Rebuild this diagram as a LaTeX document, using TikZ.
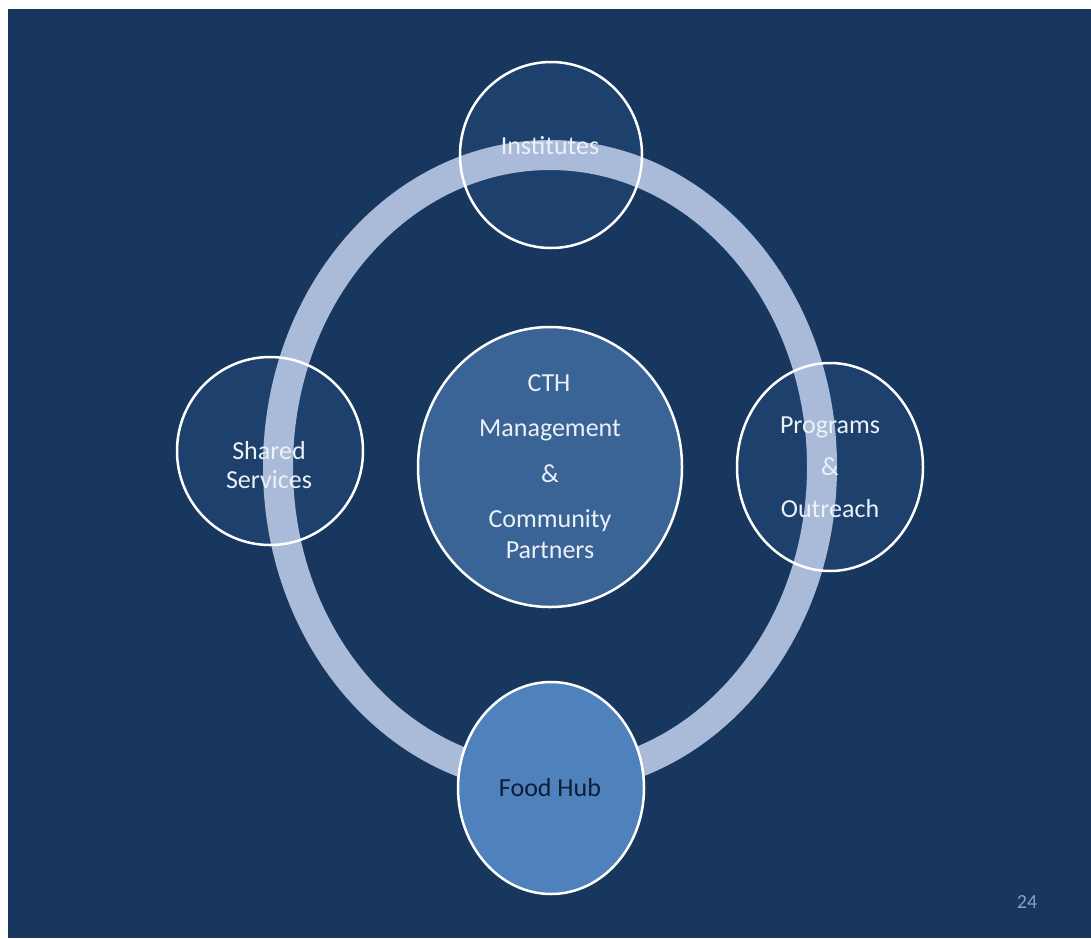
\documentclass[tikz,border=0pt]{standalone}
\usepackage{fontspec}
\setmainfont{Carlito}
\usetikzlibrary{shapes.geometric}

\definecolor{slidebg}{RGB}{23,55,94}
\definecolor{orbitfill}{RGB}{30,64,108}
\definecolor{ringcol}{RGB}{170,187,217}
\definecolor{hubfill}{RGB}{58,99,150}
\definecolor{foodfill}{RGB}{79,129,189}
\definecolor{lighttext}{RGB}{236,241,248}
\definecolor{darktext}{RGB}{15,30,55}
\definecolor{pagenum}{RGB}{140,160,192}

\tikzset{
  orbit/.style={ellipse, draw=white, line width=2.5pt, inner sep=0pt},
  label26/.style={anchor=base, text=lighttext, font=\fontsize{26}{30}\selectfont, inner sep=0pt},
}

\begin{document}
\begin{tikzpicture}[x=1pt,y=-1pt]
  \useasboundingbox (0,0) rectangle (1091,938);
  % slide background
  \fill[white] (0,0) rectangle (1091,938);
  \fill[slidebg] (8,9) rectangle (1091,938);

  % translucent fills of the outer circles
  \fill[orbitfill] (551,155) ellipse [x radius=91, y radius=93];
  \fill[orbitfill] (270,451) ellipse [x radius=93, y radius=94];
  \fill[orbitfill] (830,467) ellipse [x radius=93, y radius=104];

  % the ring joining the outer circles
  \draw[ringcol, line width=30pt] (550,467) ellipse [x radius=272, y radius=312];

  % circles
  \node[orbit, minimum width=182pt, minimum height=186pt] (inst) at (551,155) {};
  \node[orbit, minimum width=186pt, minimum height=188pt] (shared) at (270,451) {};
  \node[orbit, minimum width=186pt, minimum height=208pt] (prog) at (830,467) {};
  \node[orbit, fill=hubfill, minimum width=264pt, minimum height=280pt] (hub) at (550,467) {};
  \node[orbit, fill=foodfill, minimum width=186pt, minimum height=212pt] (food) at (551,788) {};

  % labels
  \node[label26] (tinst) at (550,154) {Institutes};

  \node[label26] (tshared1) at (269,459) {Shared};
  \node[label26] (tshared2) at (269,488) {Services};

  \node[label26] (tprog1) at (830,433) {Programs};
  \node[label26] (tprog2) at (830,475) {\&};
  \node[label26] (tprog3) at (830,517) {Outreach};

  \node[label26] (thub1) at (549,391) {CTH};
  \node[label26] (thub2) at (550,436) {Management};
  \node[label26] (thub3) at (550,482) {\&};
  \node[label26] (thub4) at (550,527) {Community};
  \node[label26] (thub5) at (550,558) {Partners};

  \node[label26, text=darktext] (tfood) at (550,796) {Food Hub};

  \node[anchor=base, text=pagenum, font=\fontsize{20}{24}\selectfont, inner sep=0pt] (page) at (1027,908) {24};
\end{tikzpicture}
\end{document}
